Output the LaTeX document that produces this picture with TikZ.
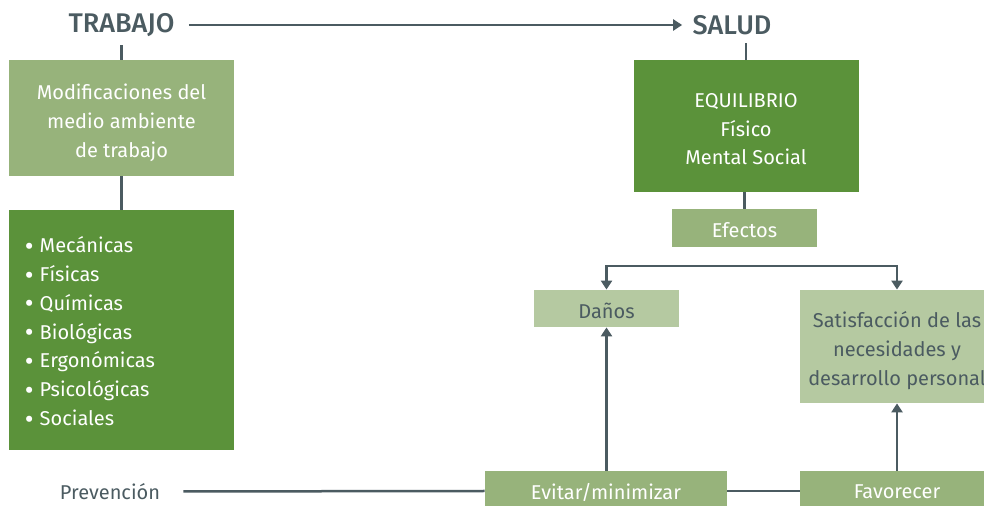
\documentclass[tikz,border=0pt]{standalone}
\usepackage{fontspec}
\setmainfont{Fira Sans}
\newfontfamily\titlefont{Fira Sans}[UprightFont={* Medium}]
\usetikzlibrary{arrows.meta}
\definecolor{lgreen}{HTML}{97B37B}
\definecolor{dgreen}{HTML}{5B923A}
\definecolor{pgreen}{HTML}{B5C9A1}
\definecolor{slate}{HTML}{4B5B61}
\newcommand\bul{\raisebox{-1.4pt}{\fontsize{13.5}{0}\selectfont•}\hspace{0.3em}}
\begin{document}
\begin{tikzpicture}[x=0.5pt,y=-0.5pt,
 box/.style={rectangle, inner sep=0pt},
 lbox/.style={box, fill=lgreen},
 dbox/.style={box, fill=dgreen},
 pbox/.style={box, fill=pgreen},
 txt/.style={inner sep=0pt, align=center, font=\fontsize{10}{14.5}\selectfont},
 wtxt/.style={txt, text=white},
 stxt/.style={txt, text=slate},
 title/.style={inner sep=0pt, text=slate, font=\fontsize{13.5}{16}\selectfont\titlefont},
 conn/.style={draw=slate, line width=1.25pt},
 tip/.tip={Triangle[length=4.5pt,width=5.5pt]},
 arr/.style={conn, -tip},
]
\useasboundingbox (0,0) rectangle (984,506);
\clip (0,0) rectangle (984,506);
% titles
\node[title] (trab) at (121.5,25) {TRABAJO};
\node[title] (salud) at (732,25) {SALUD};
% boxes
\node[lbox, minimum width=112.5pt, minimum height=58pt] (mod) at (121.5,118) {};
\node[dbox, minimum width=112.5pt, minimum height=120pt] (ries) at (121.5,330) {};
\node[dbox, minimum width=112.5pt, minimum height=66pt] (eq) at (746,126) {};
\node[lbox, minimum width=72.5pt, minimum height=19pt] (efe) at (744.5,228) {};
\node[pbox, minimum width=72.5pt, minimum height=18.5pt] (dan) at (606.5,308.5) {};
\node[pbox, minimum width=97pt, minimum height=56.5pt] (sat) at (897,346.5) {};
\node[lbox, minimum width=121pt, minimum height=20pt] (evi) at (606,491) {};
\node[lbox, minimum width=97pt, minimum height=20pt] (fav) at (897,491) {};
% texts
\node[wtxt] (modt) at ([yshift=-2.3pt]mod.center) {Modificaciones del\\medio ambiente\\de trabajo};
\node[wtxt, align=left, anchor=west, font=\fontsize{10}{14.45}\selectfont] (riest) at ([xshift=8pt,yshift=-1.2pt]ries.west)
 {\bul Mecánicas\\\bul Físicas\\\bul Químicas\\\bul Biológicas\\\bul Ergonómicas\\\bul Psicológicas\\\bul Sociales};
\node[wtxt, font=\fontsize{10}{14.3}\selectfont] (eqt) at ([yshift=-1.6pt]eq.center) {EQUILIBRIO\\Físico\\Mental Social};
\node[wtxt] (efet) at ([yshift=-1pt]efe.center) {Efectos};
\node[stxt] (dant) at ([yshift=-1pt]dan.center) {Daños};
\node[stxt] (satt) at ([yshift=-2.3pt]sat.center) {Satisfacción de las\\necesidades y\\desarrollo personal};
\node[wtxt] (evit) at ([yshift=-0.5pt]evi.center) {Evitar/minimizar};
\node[wtxt] (favt) at ([yshift=-0.5pt]fav.center) {Favorecer};
\node[stxt] (prev) at (110,491.5) {Prevención};
\coordinate (br) at (750,266);
% connectors
\draw[arr, shorten <=7pt, shorten >=5pt] (trab.east) -- (salud.west);
\draw[conn, shorten <=4pt] (trab.south) -- (mod.north);
\draw[conn] (mod.south) -- (ries.north);
\draw[conn, shorten <=4pt] (eq.north |- salud.south) -- (eq.north);
\draw[conn] (efe.north |- eq.south) -- (efe.north);
\draw[conn, tip-tip] (dan.north) -- (dan.north |- br) -- (sat.north |- br) -- (sat.north);
\draw[arr] (dan.south |- evi.north) -- (dan.south);
\draw[arr] (fav.north) -- (sat.south);
\draw[conn] (evi.east) -- (evi.east -| fav.west);
\draw[conn, shorten <=11.5pt] (prev.east) -- (evi.west);
\end{tikzpicture}
\end{document}
